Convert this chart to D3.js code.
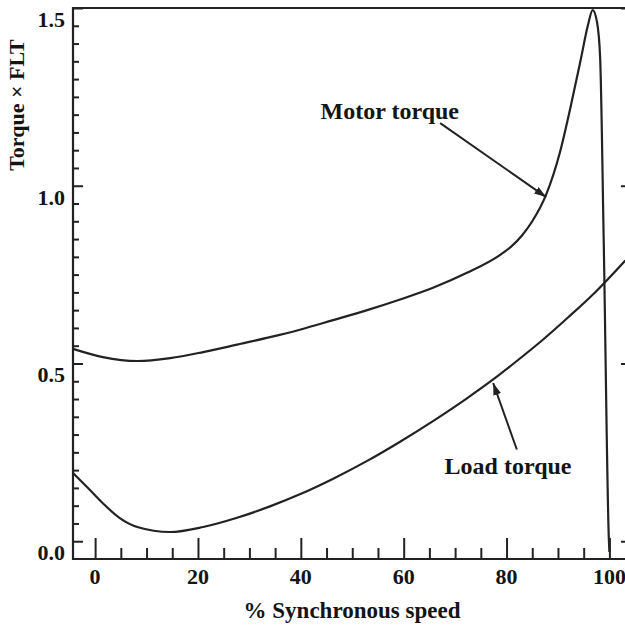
<!DOCTYPE html>
<html>
<head>
<meta charset="utf-8">
<script src="https://cdn.jsdelivr.net/npm/d3@7"></script>
<style>
  body { margin: 0; background: #fff; }
  text { font-family: "Liberation Serif", "Times New Roman", serif; font-weight: bold; fill: #141414; }
</style>
</head>
<body>
<div id="chart"></div>
<script>
// speed in % of synchronous, torque as multiple of full load torque
const motorSpeed  = [-4.3, 1.5, 8.2, 14.6, 21, 27.6, 34, 39.8, 46.3, 52.9, 59.3, 65.7, 72.3, 78.7, 81, 83, 85, 87.7, 90.4, 92.5, 94.5, 95.8, 96.75, 97.6, 98.2, 98.9, 99.9, 100];
const motorTorque = [0.541, 0.518, 0.507, 0.515, 0.532, 0.553, 0.574, 0.595, 0.622, 0.65, 0.68, 0.713, 0.755, 0.805, 0.83, 0.86, 0.9, 0.975, 1.095, 1.225, 1.36, 1.45, 1.494, 1.46, 1.36, 0.84, 0.003, -0.03];

const loadSpeed  = [-4.3, -1, 1.5, 4.8, 8.2, 14.6, 21, 27.6, 34, 39.8, 46.3, 52.9, 59.3, 65.7, 72.3, 77.4, 82, 87, 92, 97, 103.1];
const loadTorque = [0.192, 0.144, 0.107, 0.065, 0.04, 0.026, 0.04, 0.066, 0.098, 0.132, 0.176, 0.226, 0.28, 0.338, 0.402, 0.455, 0.507, 0.566, 0.63, 0.697, 0.79];

const xTickLabels = [0, 20, 40, 60, 80, 100];
const yTickLabels = [0.0, 0.5, 1.0, 1.5];

const xTitle = "% Synchronous speed";
const yTitle = "Torque \u00d7 FLT";

const width = 625;
const height = 625;

const svg = d3.select("#chart")
  .append("svg")
  .attr("width", width)
  .attr("height", height);

const x = d3.scaleLinear()
  .domain([-4.3, 104.2])
  .range([73, 631]);

const y = d3.scaleLinear()
  .domain([-0.05, 1.5])
  .range([559, 8]);

const ink = "#222";

// ticks (all pointing into the plot)
const xMinor = d3.range(0, 101, 5).filter(d => d % 20 !== 0);
const yMinor = d3.range(0, 30).map(i => +(i * 0.05).toFixed(2)).filter(d => Math.round(d * 100) % 50 !== 0);

function styleAxis(g) {
  g.select(".domain").remove();
  g.selectAll("line").attr("stroke", ink).attr("stroke-width", 2);
}

svg.append("g")
  .attr("transform", `translate(0, ${y(-0.05)})`)
  .call(d3.axisBottom(x).tickValues(xTickLabels).tickSize(-21).tickFormat(""))
  .call(styleAxis);

svg.append("g")
  .attr("transform", `translate(0, ${y(-0.05)})`)
  .call(d3.axisBottom(x).tickValues(xMinor).tickSize(-11).tickFormat(""))
  .call(styleAxis);

svg.append("g")
  .attr("transform", `translate(${x(-4.3)}, 0)`)
  .call(d3.axisLeft(y).tickValues(yTickLabels).tickSize(-10).tickFormat(""))
  .call(styleAxis);

svg.append("g")
  .attr("transform", `translate(${x(-4.3)}, 0)`)
  .call(d3.axisLeft(y).tickValues(yMinor).tickSize(-6).tickFormat(""))
  .call(styleAxis);

svg.append("g")
  .attr("transform", `translate(${x(104.2)}, 0)`)
  .call(d3.axisRight(y).tickValues(yTickLabels).tickSize(-10).tickFormat(""))
  .call(styleAxis);

// frame
svg.append("path")
  .attr("d", `M${x(104.2)},${y(1.5)} H${x(-4.3)} V${y(-0.05)} H${x(104.2)}`)
  .attr("fill", "none")
  .attr("stroke", ink)
  .attr("stroke-width", 2.2);

// tick labels
svg.append("g")
  .selectAll("text")
  .data(xTickLabels)
  .join("text")
  .attr("x", d => x(d))
  .attr("y", 584)
  .attr("text-anchor", "middle")
  .style("font-size", "22px")
  .text(d => d);

svg.append("g")
  .selectAll("text")
  .data(yTickLabels)
  .join("text")
  .attr("x", 65)
  .attr("y", d => y(d) + 19)
  .attr("text-anchor", "end")
  .style("font-size", "22px")
  .text(d => d.toFixed(1));

// axis titles
svg.append("text")
  .attr("x", 352)
  .attr("y", 618)
  .attr("text-anchor", "middle")
  .style("font-size", "23px")
  .text(xTitle);

svg.append("text")
  .attr("transform", "translate(24, 105) rotate(-90)")
  .attr("text-anchor", "middle")
  .style("font-size", "22px")
  .text(yTitle);

// curves
const line = d3.line()
  .x(d => x(d[0]))
  .y(d => y(d[1]))
  .curve(d3.curveMonotoneX);

svg.append("path")
  .datum(motorSpeed.map((s, i) => [s, motorTorque[i]]))
  .attr("d", line)
  .attr("fill", "none")
  .attr("stroke", ink)
  .attr("stroke-width", 2.2);

svg.append("path")
  .datum(loadSpeed.map((s, i) => [s, loadTorque[i]]))
  .attr("d", line)
  .attr("fill", "none")
  .attr("stroke", ink)
  .attr("stroke-width", 2.2);

// annotations
svg.append("defs")
  .append("marker")
  .attr("id", "head")
  .attr("viewBox", "0 0 12 8")
  .attr("refX", 12)
  .attr("refY", 4)
  .attr("markerWidth", 12)
  .attr("markerHeight", 8)
  .attr("markerUnits", "userSpaceOnUse")
  .attr("orient", "auto")
  .append("path")
  .attr("d", "M0,0 L12,4 L0,8 Z")
  .attr("fill", ink);

const notes = [
  { label: "Motor torque", tx: 57.3, ty: 1.188, from: [67.1, 1.176], to: [87.7, 0.968] },
  { label: "Load torque", tx: 80.3, ty: 0.188, from: [82.0, 0.258], to: [77.4, 0.445] }
];

notes.forEach(n => {
  svg.append("line")
    .attr("x1", x(n.from[0]))
    .attr("y1", y(n.from[1]))
    .attr("x2", x(n.to[0]))
    .attr("y2", y(n.to[1]))
    .attr("stroke", ink)
    .attr("stroke-width", 2)
    .attr("marker-end", "url(#head)");

  svg.append("text")
    .attr("x", x(n.tx))
    .attr("y", y(n.ty))
    .attr("text-anchor", "middle")
    .style("font-size", "24px")
    .text(n.label);
});
</script>
</body>
</html>
